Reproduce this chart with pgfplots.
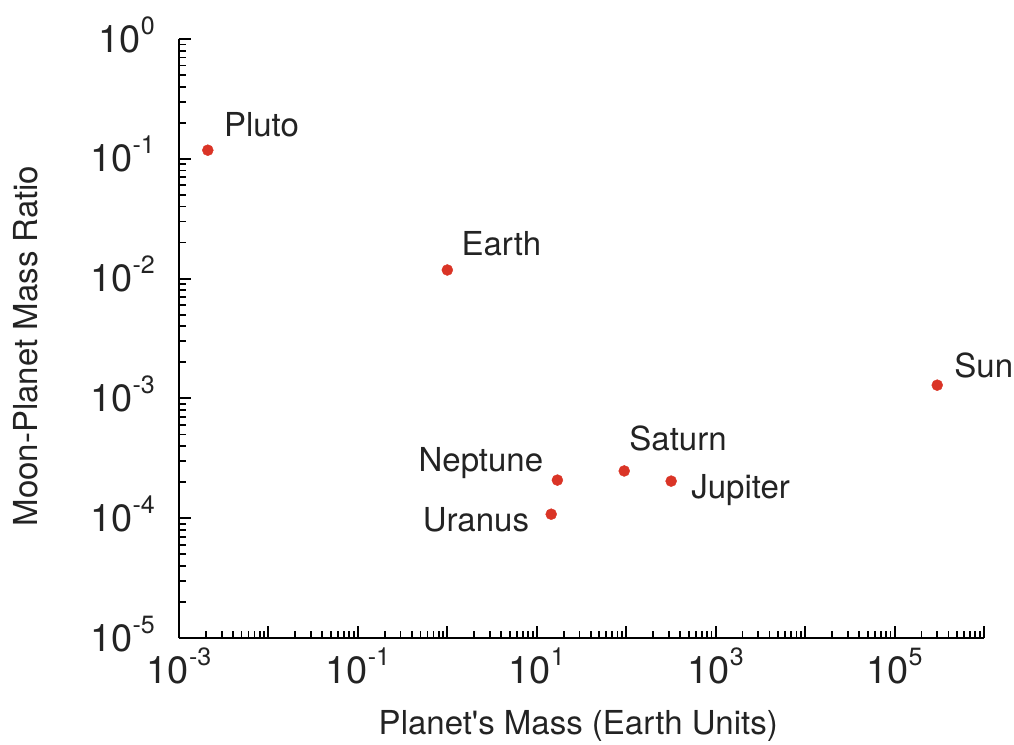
\documentclass[border=0pt]{standalone}
\usepackage{fontspec}
\setmainfont{TeX Gyre Heros}
\usepackage{pgfplots}
\pgfplotsset{compat=1.18}
\definecolor{dotred}{RGB}{218,52,38}
\definecolor{txt}{RGB}{35,35,35}
\newcommand{\tp}[1]{10\raisebox{18pt}{\fontsize{25}{25}\selectfont #1}}
\begin{document}
\begin{tikzpicture}
\begin{loglogaxis}[
  scale only axis, width=805pt, height=599pt,
  xmin=1e-3, xmax=1e6, ymin=1e-5, ymax=1,
  axis x line*=bottom, axis y line*=left,
  axis line style={-, line width=2.6pt, black},
  tick align=inside,
  major tick length=12pt, minor tick length=7pt,
  every tick/.style={line width=2pt, black},
  minor tick style={line width=1.8pt, black},
  clip=false,
  xtick={1e-3,1e-2,1e-1,1,10,100,1000,1e4,1e5,1e6},
  xticklabels={\tp{-3},,\tp{-1},,\tp{1},,\tp{3},,\tp{5},},
  ytick={1e-5,1e-4,1e-3,1e-2,1e-1,1},
  yticklabels={\tp{-5},\tp{-4},\tp{-3},\tp{-2},\tp{-1},\tp{0}},
  minor xtick={2e-3,3e-3,4e-3,5e-3,6e-3,7e-3,8e-3,9e-3,
    2e-2,3e-2,4e-2,5e-2,6e-2,7e-2,8e-2,9e-2,
    0.2,0.3,0.4,0.5,0.6,0.7,0.8,0.9,
    2,3,4,5,6,7,8,9,
    20,30,40,50,60,70,80,90,
    200,300,400,500,600,700,800,900,
    2000,3000,4000,5000,6000,7000,8000,9000,
    2e4,3e4,4e4,5e4,6e4,7e4,8e4,9e4,
    2e5,3e5,4e5,5e5,6e5,7e5,8e5,9e5},
  minor ytick={2e-5,3e-5,4e-5,5e-5,6e-5,7e-5,8e-5,9e-5,
    2e-4,3e-4,4e-4,5e-4,6e-4,7e-4,8e-4,9e-4,
    2e-3,3e-3,4e-3,5e-3,6e-3,7e-3,8e-3,9e-3,
    2e-2,3e-2,4e-2,5e-2,6e-2,7e-2,8e-2,9e-2,
    0.2,0.3,0.4,0.5,0.6,0.7,0.8,0.9},
  xticklabel style={font=\fontsize{38}{40}\selectfont, text=txt, anchor=base, inner sep=0pt, yshift=-45pt},
  yticklabel style={font=\fontsize{38}{40}\selectfont, text=txt, anchor=base east, inner sep=0pt, xshift=-24pt, yshift=-13pt},
  xlabel={Planet\textquotesingle s Mass (Earth Units)},
  ylabel={Moon-Planet Mass Ratio},
  xlabel style={font=\fontsize{33}{36}\selectfont, text=txt, at={(axis description cs:0.496,-0.1619)}, anchor=base, inner sep=0pt},
  ylabel style={font=\fontsize{33}{36}\selectfont, text=txt, at={(axis description cs:-0.1752,0.4875)}, anchor=base, inner sep=0pt},
]
\addplot[only marks, mark=*, mark size=5.5pt, mark options={fill=dotred, draw=dotred}] coordinates {
  (0.0021,0.118)
  (1,0.0118)
  (3.0e5,1.29e-3)
  (17,2.08e-4)
  (14.5,1.08e-4)
  (95,2.48e-4)
  (318,2.04e-4)
};
\begin{scope}[every node/.style={font=\fontsize{33}{36}\selectfont, text=txt, inner sep=0pt}]
\node[anchor=base west, xshift=16pt, yshift=14pt] at (axis cs:0.0021,0.118) {Pluto};
\node[anchor=base west, xshift=14pt, yshift=14pt] at (axis cs:1,0.0118) {Earth};
\node[anchor=base west, xshift=17pt, yshift=8pt] at (axis cs:3.0e5,1.29e-3) {Sun};
\node[anchor=base east, xshift=-14pt, yshift=9pt] at (axis cs:17,2.08e-4) {Neptune};
\node[anchor=base east, xshift=-22pt, yshift=-17pt] at (axis cs:14.5,1.08e-4) {Uranus};
\node[anchor=base west, xshift=5pt, yshift=20pt] at (axis cs:95,2.48e-4) {Saturn};
\node[anchor=base west, xshift=20pt, yshift=-17pt] at (axis cs:318,2.04e-4) {Jupiter};
\end{scope}
\end{loglogaxis}
\pgfresetboundingbox
\path (current axis.south west) ++(-179pt,-106pt) rectangle ++(1014pt,744pt);
\end{tikzpicture}
\end{document}
